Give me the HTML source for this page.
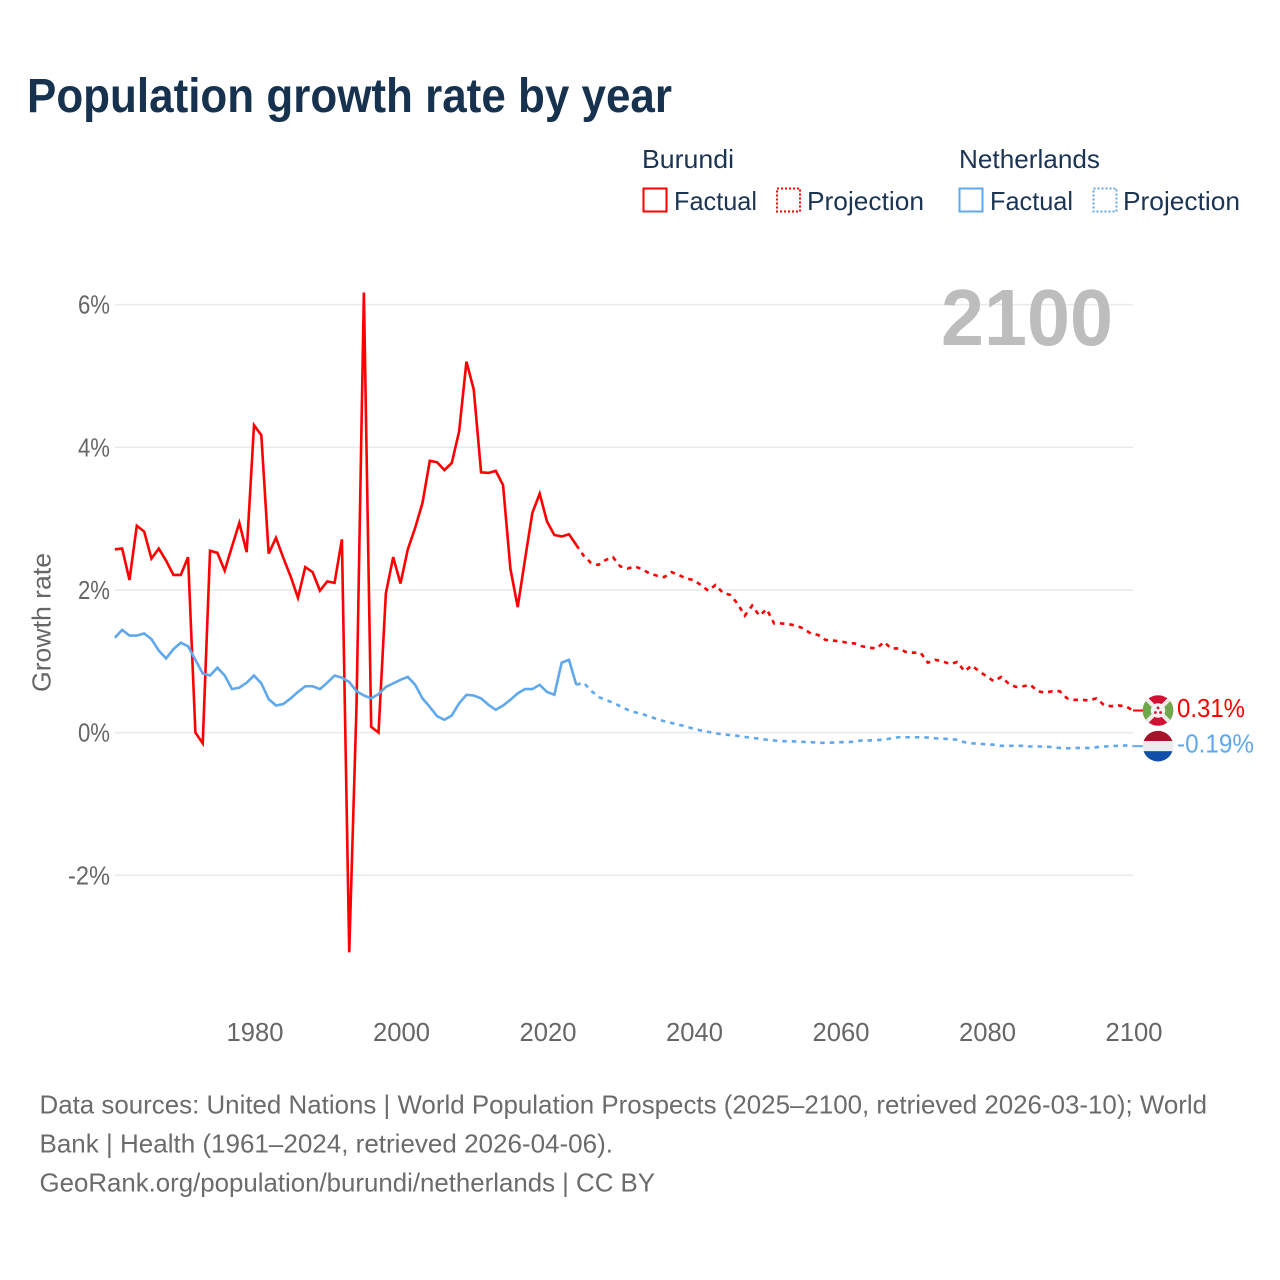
<!DOCTYPE html>
<html lang="en">
<head>
<meta charset="utf-8">
<title>Population growth rate by year</title>
<style>
html,body{margin:0;padding:0;background:#fff;}
svg{display:block;font-family:"Liberation Sans",sans-serif;}
</style>
</head>
<body>
<svg id="chart" xmlns="http://www.w3.org/2000/svg" width="1280" height="1280" viewBox="0 0 1280 1280">
  <defs>
    <clipPath id="flag-clip"><circle cx="0" cy="0" r="15.3"/></clipPath>
  </defs>
  <rect width="1280" height="1280" fill="#ffffff"/>
  <text x="27" y="112" font-size="48" font-weight="700" fill="#17324f" textLength="645" lengthAdjust="spacingAndGlyphs">Population growth rate by year</text>

  <g font-size="25.6" fill="#1b3454">
    <text x="642" y="168" textLength="92" lengthAdjust="spacingAndGlyphs">Burundi</text>
    <text x="959" y="168" textLength="141" lengthAdjust="spacingAndGlyphs">Netherlands</text>
    <rect x="643.5" y="188.5" width="23" height="23" fill="none" stroke="#ff0000" stroke-width="2"/>
    <text x="674" y="210" textLength="83" lengthAdjust="spacingAndGlyphs">Factual</text>
    <rect x="777" y="188.5" width="23" height="23" fill="none" stroke="#ff0000" stroke-width="2" stroke-dasharray="2 2"/>
    <text x="807" y="210" textLength="117" lengthAdjust="spacingAndGlyphs">Projection</text>
    <rect x="959.5" y="188.5" width="23" height="23" fill="none" stroke="#5fa8ee" stroke-width="2"/>
    <text x="990" y="210" textLength="83" lengthAdjust="spacingAndGlyphs">Factual</text>
    <rect x="1093.5" y="188.5" width="23" height="23" fill="none" stroke="#5fa8ee" stroke-width="2" stroke-dasharray="2 2"/>
    <text x="1123" y="210" textLength="117" lengthAdjust="spacingAndGlyphs">Projection</text>
  </g>

  <g id="grid"></g>
  <g id="y-axis"></g>
  <g id="x-axis"></g>
  <text transform="translate(50.5,622.5) rotate(-90)" text-anchor="middle" font-size="25.6" fill="#666666" textLength="139" lengthAdjust="spacingAndGlyphs">Growth rate</text>
  <text x="941" y="345" font-size="80" font-weight="700" fill="#bdbdbd" textLength="172" lengthAdjust="spacingAndGlyphs">2100</text>
  <g id="series"></g>
  <g id="markers"></g>

  <g font-size="25.6" fill="#6b6b6b">
    <text x="39.5" y="1113.5" textLength="1167.5" lengthAdjust="spacingAndGlyphs">Data sources: United Nations | World Population Prospects (2025–2100, retrieved 2026-03-10); World</text>
    <text x="39.5" y="1152.5" textLength="573.5" lengthAdjust="spacingAndGlyphs">Bank | Health (1961–2024, retrieved 2026-04-06).</text>
    <text x="39.5" y="1191.5" textLength="615.5" lengthAdjust="spacingAndGlyphs">GeoRank.org/population/burundi/netherlands | CC BY</text>
  </g>
</svg>
<script>
const xTickYears = [1980, 2000, 2020, 2040, 2060, 2080, 2100];
const yTickValues = [6, 4, 2, 0, -2];
const factualStartYear = 1961;
const projectionStartYear = 2024;

const burundiFactual = [
  2.57, 2.58, 2.14, 2.90, 2.82, 2.44, 2.58, 2.41, 2.21, 2.21,
  2.46, 0.00, -0.15, 2.55, 2.52, 2.27, 2.61, 2.94, 2.53, 4.31,
  4.17, 2.51, 2.73, 2.45, 2.19, 1.89, 2.32, 2.25, 1.99, 2.12,
  2.10, 2.71, -3.08, 0.40, 6.17, 0.08, 0.00, 1.95, 2.46, 2.09,
  2.57, 2.87, 3.22, 3.81, 3.79, 3.68, 3.78, 4.22, 5.20, 4.81,
  3.65, 3.64, 3.67, 3.47, 2.30, 1.76, 2.43, 3.08, 3.35, 2.96,
  2.77, 2.75, 2.78, 2.63
];
const burundiProjection = [
  2.63, 2.48, 2.38, 2.35, 2.42, 2.46, 2.33, 2.30, 2.33, 2.29,
  2.23, 2.20, 2.18, 2.25, 2.21, 2.16, 2.14, 2.07, 1.99, 2.07,
  1.96, 1.93, 1.81, 1.64, 1.78, 1.64, 1.73, 1.53, 1.53, 1.52,
  1.50, 1.46, 1.39, 1.37, 1.30, 1.29, 1.28, 1.26, 1.25, 1.21,
  1.19, 1.18, 1.27, 1.18, 1.18, 1.13, 1.12, 1.12, 0.98, 1.02,
  1.00, 0.96, 0.99, 0.86, 0.94, 0.86, 0.79, 0.72, 0.78, 0.69,
  0.64, 0.65, 0.67, 0.58, 0.56, 0.58, 0.58, 0.48, 0.46, 0.46,
  0.45, 0.48, 0.39, 0.37, 0.38, 0.37, 0.31
];
const netherlandsFactual = [
  1.33, 1.44, 1.36, 1.36, 1.39, 1.31, 1.15, 1.04, 1.17, 1.26,
  1.21, 1.02, 0.83, 0.80, 0.91, 0.80, 0.61, 0.63, 0.70, 0.80,
  0.69, 0.47, 0.38, 0.40, 0.48, 0.57, 0.65, 0.65, 0.61, 0.70,
  0.80, 0.77, 0.71, 0.58, 0.52, 0.48, 0.54, 0.64, 0.69, 0.74,
  0.78, 0.67, 0.48, 0.36, 0.23, 0.18, 0.24, 0.41, 0.53, 0.52,
  0.48, 0.39, 0.32, 0.38, 0.46, 0.55, 0.61, 0.61, 0.67, 0.57,
  0.53, 0.98, 1.02, 0.67
];
const netherlandsProjection = [
  0.67, 0.70, 0.59, 0.50, 0.46, 0.42, 0.37, 0.32, 0.285, 0.26,
  0.225, 0.19, 0.16, 0.135, 0.11, 0.085, 0.055, 0.03, 0.01, -0.01,
  -0.025, -0.035, -0.045, -0.06, -0.075, -0.085, -0.10, -0.11, -0.12, -0.12,
  -0.125, -0.13, -0.135, -0.14, -0.145, -0.14, -0.135, -0.135, -0.125, -0.11,
  -0.11, -0.105, -0.10, -0.08, -0.065, -0.065, -0.065, -0.065, -0.07, -0.08,
  -0.085, -0.09, -0.10, -0.135, -0.15, -0.155, -0.165, -0.17, -0.185, -0.185,
  -0.185, -0.185, -0.195, -0.195, -0.195, -0.205, -0.215, -0.22, -0.215, -0.215,
  -0.215, -0.205, -0.195, -0.19, -0.185, -0.18, -0.19
];

const SVG_NS = 'http://www.w3.org/2000/svg';
function xScale(year) { return 254 + (year - 1980) * 7.325; }
function yScale(value) { return 732.6 - value * 71.33; }
function make(tag, attrs, parent) {
  const el = document.createElementNS(SVG_NS, tag);
  for (const key in attrs) el.setAttribute(key, attrs[key]);
  parent.appendChild(el);
  return el;
}
function pathFor(values, startYear) {
  return values.map((v, i) => (i ? 'L' : 'M') + xScale(startYear + i).toFixed(2) + ' ' + yScale(v).toFixed(2)).join(' ');
}

const gridGroup = document.getElementById('grid');
const yAxisGroup = document.getElementById('y-axis');
const xAxisGroup = document.getElementById('x-axis');
const seriesGroup = document.getElementById('series');
const markersGroup = document.getElementById('markers');

yTickValues.forEach(function (v) {
  const y = yScale(v);
  const line = make('line', { x1: 115, x2: 1133, y1: y, y2: y, stroke: '#eaeaea', 'stroke-width': 1.5 }, gridGroup);
  
  
  const label = v + '%';
  const text = make('text', { x: 110, y: y + 9, 'text-anchor': 'end', 'font-size': 25.6, fill: '#666666', textLength: 32 + (label.length - 2) * 10, lengthAdjust: 'spacingAndGlyphs' }, yAxisGroup);
  
  
  text.textContent = label;
});

xTickYears.forEach(function (year) {
  const text = make('text', { x: xScale(year) + 1, y: 1041, 'text-anchor': 'middle', 'font-size': 25.6, fill: '#666666' }, xAxisGroup);
  
  
  text.textContent = year;
});

function drawSeries(values, startYear, color, dashed, name) {
  const attrs = { d: pathFor(values, startYear), fill: 'none', stroke: color, 'stroke-width': 2.6 };
  if (dashed) attrs['stroke-dasharray'] = '4.5 5';
  const path = make('path', attrs, seriesGroup);
  
  
}
drawSeries(burundiProjection, projectionStartYear, '#ff0000', true, 'burundi-projection-line');
drawSeries(burundiFactual, factualStartYear, '#ff0000', false, 'burundi-factual-line');
drawSeries(netherlandsProjection, projectionStartYear, '#5fa8ee', true, 'netherlands-projection-line');
drawSeries(netherlandsFactual, factualStartYear, '#5fa8ee', false, 'netherlands-factual-line');

function drawEnd(values, color, name, widthPx, drawFlag) {
  const last = values[values.length - 1];
  const y = yScale(last);
  const connector = make('line', { x1: xScale(2100), x2: 1143, y1: y, y2: y, stroke: color, 'stroke-width': 2 }, markersGroup);
  
  
  const flag = make('g', { transform: 'translate(1158,' + y + ')', 'clip-path': 'url(#flag-clip)' }, markersGroup);
  
  
  drawFlag(flag);
  const text = make('text', { x: 1177, y: y + 6.5, 'font-size': 25.6, fill: color, textLength: widthPx, lengthAdjust: 'spacingAndGlyphs' }, markersGroup);
  
  
  text.textContent = last.toFixed(2) + '%';
}

drawEnd(burundiProjection, '#ff0000', 'burundi', 68, function (g) {
  make('rect', { x: -16, y: -16, width: 32, height: 32, fill: '#d21034' }, g);
  make('path', { d: 'M-16 -16 L0 0 L-16 16 Z', fill: '#6fa84a' }, g);
  make('path', { d: 'M16 -16 L0 0 L16 16 Z', fill: '#6fa84a' }, g);
  make('path', { d: 'M-16 -16 L16 16 M16 -16 L-16 16', stroke: '#ececec', 'stroke-width': 4, fill: 'none' }, g);
  make('circle', { cx: 0, cy: 0, r: 7.2, fill: '#f2f2f2' }, g);
  make('circle', { cx: 0, cy: -2.6, r: 1.4, fill: '#d21034' }, g);
  make('circle', { cx: -2.6, cy: 2, r: 1.4, fill: '#d21034' }, g);
  make('circle', { cx: 2.6, cy: 2, r: 1.4, fill: '#d21034' }, g);
});
drawEnd(netherlandsProjection, '#5fa8ee', 'netherlands', 77, function (g) {
  make('rect', { x: -16, y: -16, width: 32, height: 11, fill: '#a6142c' }, g);
  make('rect', { x: -16, y: -5, width: 32, height: 10, fill: '#ececf0' }, g);
  make('rect', { x: -16, y: 5, width: 32, height: 11.5, fill: '#0f4fa8' }, g);
});
</script>
</body>
</html>
